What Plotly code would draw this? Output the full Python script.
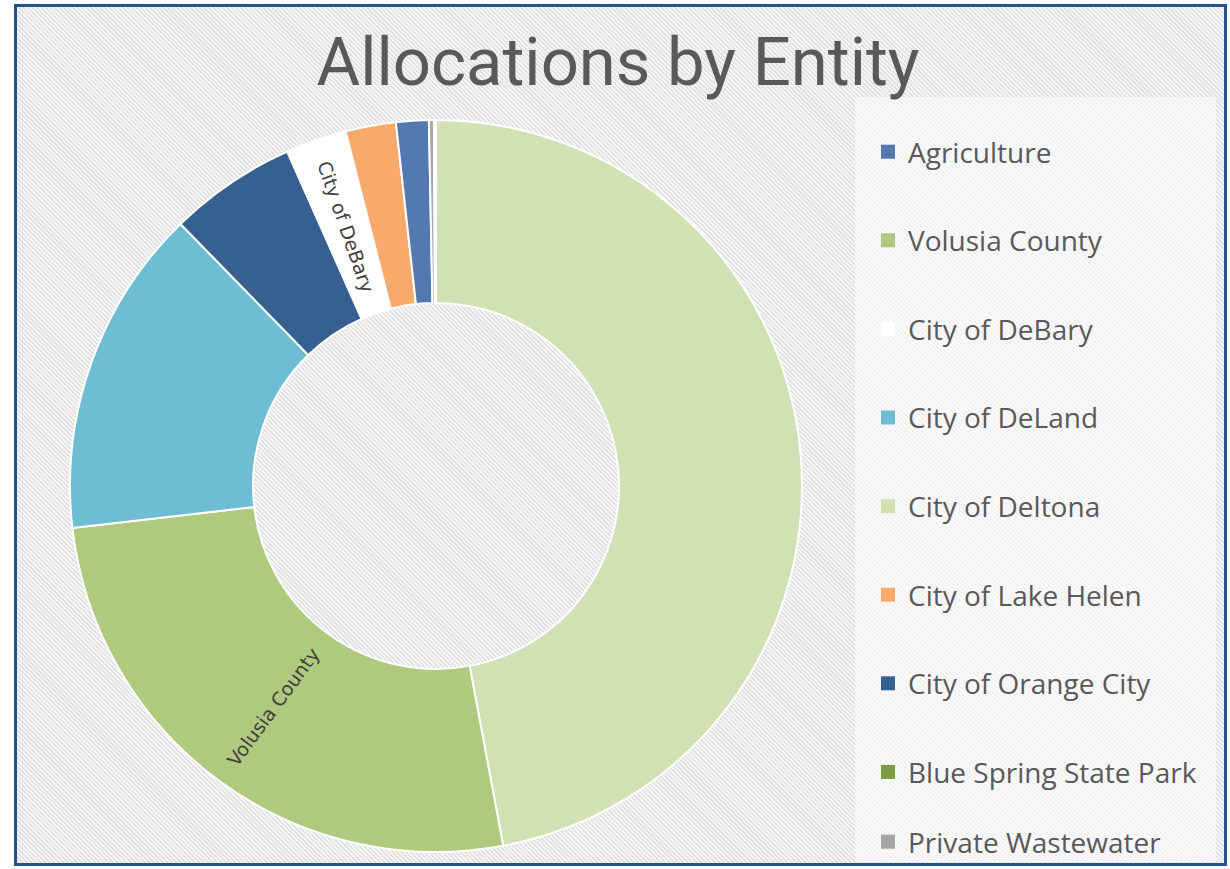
import base64
import plotly.graph_objects as go

# ---- data (slice order: clockwise from 12 o'clock) ----
slice_labels = ["City of Deltona", "Volusia County", "City of DeLand", "City of Orange City",
                "City of DeBary", "City of Lake Helen", "Agriculture", "Private Wastewater",
                "Blue Spring State Park"]
slice_values = [47.06, 26.11, 14.53, 5.64, 2.69, 2.22, 1.44, 0.22, 0.09]

# legend order as shown in the chart
legend_order = ["Agriculture", "Volusia County", "City of DeBary", "City of DeLand",
                "City of Deltona", "City of Lake Helen", "City of Orange City",
                "Blue Spring State Park", "Private Wastewater"]

# slices whose name is printed on the ring
labelled_slices = ["Volusia County", "City of DeBary"]

title_text = "Allocations by Entity"

colors = {
    "Agriculture": "#5479b0",
    "Volusia County": "#afc97e",
    "City of DeBary": "#ffffff",
    "City of DeLand": "#6fbdd2",
    "City of Deltona": "#d1e1b4",
    "City of Lake Helen": "#f8aa6c",
    "City of Orange City": "#35608f",
    "Blue Spring State Park": "#7a9a42",
    "Private Wastewater": "#a6a6a6",
}

W, H = 1230, 869

def px_x(v):
    return v / W

def px_y(v):
    return 1 - v / H

fig = go.Figure()

fig.add_trace(go.Pie(
    labels=slice_labels,
    values=slice_values,
    sort=False,
    direction="clockwise",
    rotation=0,
    hole=0.5,
    marker=dict(colors=[colors[l] for l in slice_labels], line=dict(color="#ffffff", width=2)),
    text=[l if l in labelled_slices else "" for l in slice_labels],
    textinfo="text",
    textposition="inside",
    insidetextorientation="radial",
    textfont=dict(family="DejaVu Sans", size=19, color="#404040"),
    showlegend=False,
    hoverinfo="label+percent",
    domain=dict(x=[px_x(70), px_x(802)], y=[px_y(852), px_y(120)]),
))

for name in legend_order:
    fig.add_trace(go.Scatter(
        x=[None], y=[None], mode="markers",
        marker=dict(symbol="square", size=14, color=colors[name],
                    line=dict(width=0)),
        name=name, legendgroup=name, showlegend=True,
        legend="legend2" if name == legend_order[-1] else "legend",
    ))

# hatched background as an SVG pattern
hx0, hy0, hx1, hy1 = 17, 7, 1224, 863
svg = (
    f'<svg xmlns="http://www.w3.org/2000/svg" width="{hx1-hx0}" height="{hy1-hy0}">'
    '<defs><pattern id="h" width="3.2" height="3.2" patternUnits="userSpaceOnUse" '
    'patternTransform="rotate(-45)">'
    '<rect width="3.2" height="3.2" fill="#f8f8f8"/>'
    '<rect width="1.4" height="3.2" fill="#dcdcdc"/>'
    '</pattern></defs>'
    '<rect width="100%" height="100%" fill="url(#h)"/></svg>'
)
src = "data:image/svg+xml;base64," + base64.b64encode(svg.encode()).decode()

legend_font = dict(family="Open Sans", size=28, color="#595959")

fig.update_layout(
    width=W, height=H,
    margin=dict(l=0, r=0, t=0, b=0),
    paper_bgcolor="#ffffff",
    plot_bgcolor="rgba(0,0,0,0)",
    xaxis=dict(visible=False, range=[0, 1]),
    yaxis=dict(visible=False, range=[0, 1]),
    title=dict(text=title_text, x=px_x(618), xanchor="center", y=px_y(62), yanchor="middle",
               yref="container", xref="container",
               font=dict(family="Roboto", size=67, color="#595959")),
    images=[dict(source=src, xref="paper", yref="paper", x=px_x(hx0), y=px_y(hy0),
                 sizex=(hx1 - hx0) / W, sizey=(hy1 - hy0) / H, xanchor="left", yanchor="top",
                 sizing="stretch", layer="below")],
    shapes=[
        dict(type="rect", xref="paper", yref="paper", x0=px_x(855), x1=px_x(1216),
             y0=px_y(862), y1=px_y(97), fillcolor="rgba(255,255,255,0.55)",
             line=dict(width=0), layer="below"),
        dict(type="rect", xref="paper", yref="paper", x0=px_x(15.5), x1=px_x(1225.5),
             y0=px_y(864.5), y1=px_y(5.5), fillcolor="rgba(0,0,0,0)",
             line=dict(color="#27518a", width=3), layer="above"),
    ],
    legend=dict(x=px_x(868), y=px_y(127), xanchor="left", yanchor="top",
                bgcolor="rgba(0,0,0,0)", font=legend_font, traceorder="grouped",
                tracegroupgap=49.2, itemclick=False, itemdoubleclick=False),
    legend2=dict(x=px_x(868), y=px_y(817), xanchor="left", yanchor="top",
                 bgcolor="rgba(0,0,0,0)", font=legend_font),
    showlegend=True,
)

fig.write_html("out.html",
               config={"displayModeBar": False},
               post_script="document.body.style.margin='0';document.body.style.padding='0';"
                           "document.body.style.overflow='hidden';")
